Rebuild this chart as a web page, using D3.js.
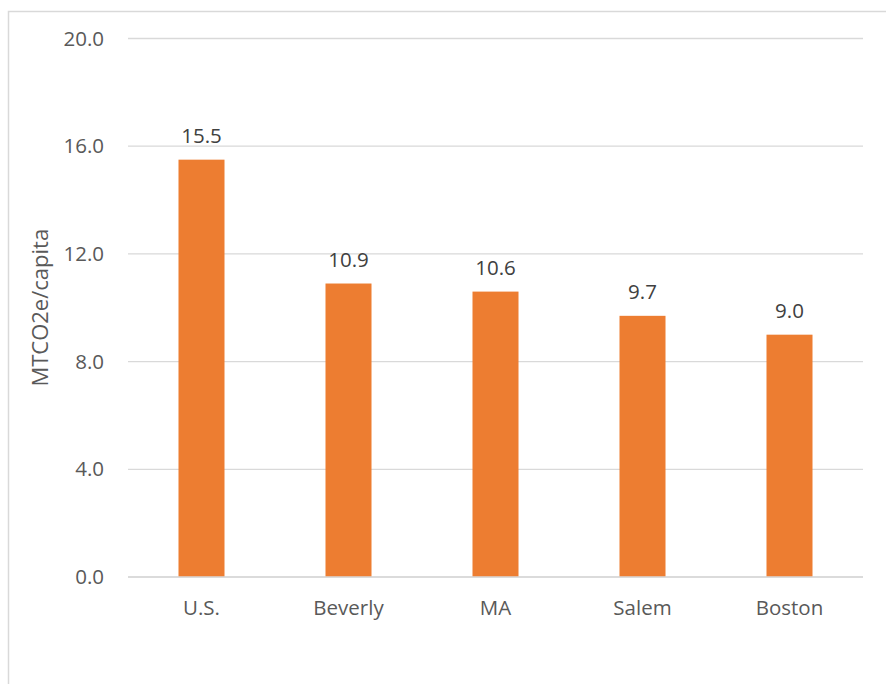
<!DOCTYPE html>
<html>
<head>
<meta charset="utf-8">
<script src="https://cdn.jsdelivr.net/npm/d3@7"></script>
<style>
  body { margin: 0; background: #fff; }
  svg text { font-family: "Open Sans", "Liberation Sans", sans-serif; }
</style>
</head>
<body>
<svg id="chart"></svg>
<script>
// data
const categories = ["U.S.", "Beverly", "MA", "Salem", "Boston"];
const values = [15.5, 10.9, 10.6, 9.7, 9.0];
const yTicks = [0, 4, 8, 12, 16, 20];

const [w, h] = [886, 684];
const svg = d3.select("#chart").attr("width", w).attr("height", h);

// outer frame (only left/top are visible in the picture)
svg.append("rect").attr("x", 8.5).attr("y", 11.5).attr("width", 900).attr("height", 700)
  .attr("fill", "none").attr("stroke", "#d9d9d9").attr("stroke-width", 1.5);

const [plotL, plotR, plotT, plotB] = [128, 863, 38.5, 577];

const x = d3.scaleBand().domain(categories).range([plotL, plotR]).paddingInner(0.687).paddingOuter(0.3435);
const y = d3.scaleLinear().domain([0, 20]).range([plotB, plotT]);

//gridlines
svg.append("g").selectAll("line").data(yTicks).enter().append("line")
  .attr("x1", plotL).attr("x2", plotR)
  .attr("y1", d => y(d)).attr("y2", d => y(d))
  .attr("stroke", "#d9d9d9").attr("stroke-width", 1.3);

// y axis labels
const yAxis = d3.axisLeft(y).tickValues(yTicks).tickFormat(d3.format(".1f")).tickSize(0).tickPadding(24);
const gy = svg.append("g").attr("transform", `translate(${plotL},0)`).call(yAxis);
gy.select(".domain").remove();
gy.selectAll("text").attr("fill", "#595959").style("font-size", "20.5px");

// bars
svg.append("g").selectAll("rect").data(values).enter().append("rect")
  .attr("x", (d, i) => x(categories[i]))
  .attr("width", x.bandwidth())
  .attr("y", d => y(d))
  .attr("height", d => plotB - y(d))
  .attr("fill", "#ed7d31");

// baseline on top of bars
svg.append("line").attr("x1", plotL).attr("x2", plotR).attr("y1", y(0)).attr("y2", y(0))
  .attr("stroke", "#d9d9d9").attr("stroke-width", 1.3);

// value labels
svg.append("g").selectAll("text").data(values).enter().append("text")
  .attr("x", (d, i) => x(categories[i]) + x.bandwidth() / 2)
  .attr("y", d => y(d) - 17)
  .attr("text-anchor", "middle")
  .attr("fill", "#404040").style("font-size", "20.5px")
  .text(d => d3.format(".1f")(d));

// x axis labels
const xAxis = d3.axisBottom(x).tickSize(0).tickPadding(23);
const gx = svg.append("g").attr("transform", `translate(0,${plotB})`).call(xAxis);
gx.select(".domain").remove();
gx.selectAll("text").attr("fill", "#595959").style("font-size", "20.5px");

// axis title
svg.append("text")
  .attr("transform", `translate(48,${(plotT + plotB) / 2}) rotate(-90)`)
  .attr("text-anchor", "middle")
  .attr("fill", "#595959").style("font-size", "22px")
  .text("MTCO2e/capita");
</script>
</body>
</html>
